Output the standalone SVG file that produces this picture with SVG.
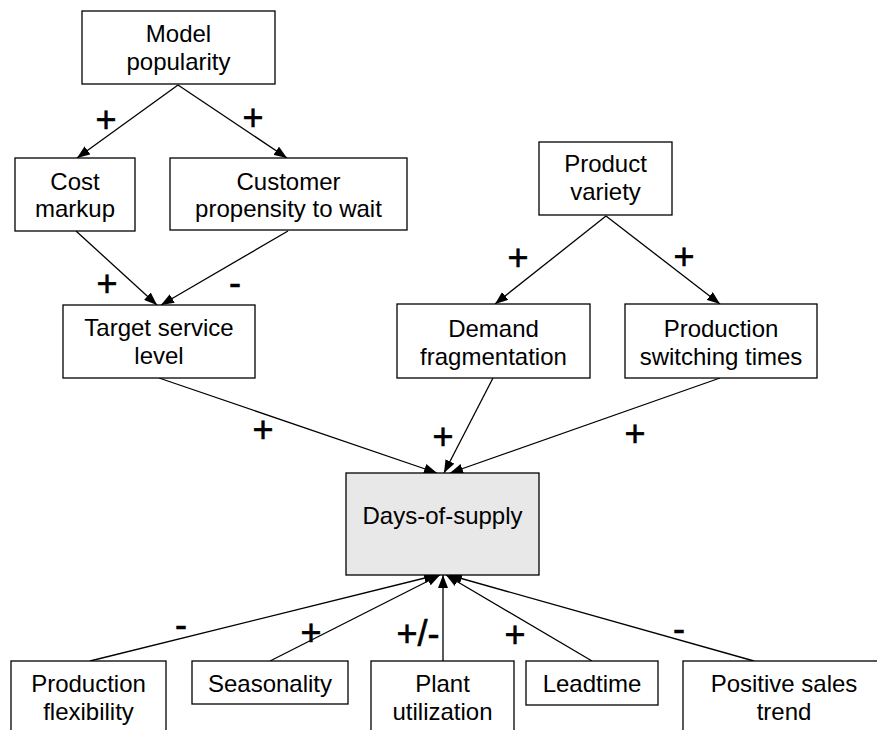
<svg xmlns="http://www.w3.org/2000/svg" width="877" height="730" viewBox="0 0 877 730">
<style>
.box{fill:#fff;stroke:#000;stroke-width:1.3}
.main{fill:#e8e8e8;stroke:#000;stroke-width:1.3}
.t{font-family:"Liberation Sans",Arial,sans-serif;font-size:24px;fill:#000;text-anchor:middle}
.s{font-family:"Liberation Sans",Arial,sans-serif;font-size:36px;fill:#000;text-anchor:middle;stroke:#000;stroke-width:0.6}
.e{fill:none;stroke:#000;stroke-width:1.3;marker-end:url(#ah)}
</style>
<defs>
<marker id="ah" viewBox="0 0 13 10" refX="13" refY="5" markerWidth="13" markerHeight="10" markerUnits="userSpaceOnUse" orient="auto">
<path d="M0,0 L13,5 L0,10 Z" fill="#000"/>
</marker>
</defs>
<rect width="877" height="730" fill="#fff"/>
<g id="connectors">
<line class="e" x1="178" y1="85" x2="77" y2="158"/>
<line class="e" x1="178" y1="85" x2="287" y2="158"/>
<line class="e" x1="76" y1="231" x2="157" y2="305"/>
<line class="e" x1="288" y1="231" x2="161" y2="305"/>
<line class="e" x1="606" y1="216" x2="495" y2="304"/>
<line class="e" x1="606" y1="216" x2="720" y2="304"/>
<line class="e" x1="159" y1="378" x2="437" y2="473"/>
<line class="e" x1="493" y1="378" x2="444" y2="473"/>
<line class="e" x1="720" y1="378" x2="450" y2="473"/>
<line class="e" x1="90" y1="661" x2="437" y2="575"/>
<line class="e" x1="270" y1="661" x2="440" y2="575"/>
<line class="e" x1="443" y1="661" x2="443" y2="575"/>
<line class="e" x1="592" y1="661" x2="446" y2="575"/>
<line class="e" x1="754" y1="661" x2="449" y2="575"/>
</g>
<g id="labels">
<text class="s" x="106" y="132">+</text>
<text class="s" x="253" y="130">+</text>
<text class="s" x="518" y="270">+</text>
<text class="s" x="684" y="269">+</text>
<text class="s" x="107" y="296">+</text>
<text class="s" x="235" y="295">-</text>
<text class="s" x="263" y="442">+</text>
<text class="s" x="443" y="449">+</text>
<text class="s" x="635" y="446">+</text>
<text class="s" x="181" y="637">-</text>
<text class="s" x="311" y="645">+</text>
<text class="s" x="418" y="646">+/-</text>
<text class="s" x="515" y="647">+</text>
<text class="s" x="679" y="641">-</text>
</g>
<g id="model-popularity"><rect class="box" x="82" y="11" width="193" height="73"/><text class="t" x="178.5" y="42">Model</text><text class="t" x="178.5" y="70">popularity</text></g>
<g id="cost-markup"><rect class="box" x="15" y="158" width="120" height="73"/><text class="t" x="75" y="190">Cost</text><text class="t" x="75" y="217">markup</text></g>
<g id="customer-propensity"><rect class="box" x="170" y="158" width="237" height="72"/><text class="t" x="288.5" y="190">Customer</text><text class="t" x="288.5" y="217">propensity to wait</text></g>
<g id="product-variety"><rect class="box" x="539" y="142" width="133" height="73"/><text class="t" x="605.5" y="172">Product</text><text class="t" x="605.5" y="200">variety</text></g>
<g id="target-service-level"><rect class="box" x="63" y="305" width="192" height="73"/><text class="t" x="159" y="336">Target service</text><text class="t" x="159" y="364">level</text></g>
<g id="demand-fragmentation"><rect class="box" x="397" y="304" width="193" height="74"/><text class="t" x="493.5" y="337">Demand</text><text class="t" x="493.5" y="365">fragmentation</text></g>
<g id="production-switching-times"><rect class="box" x="625" y="304" width="192" height="74"/><text class="t" x="721" y="337">Production</text><text class="t" x="721" y="365">switching times</text></g>
<g id="days-of-supply"><rect class="main" x="346" y="473" width="193" height="102"/><text class="t" x="442.5" y="524">Days-of-supply</text></g>
<g id="production-flexibility"><rect class="box" x="11" y="661" width="155" height="90"/><text class="t" x="88.5" y="692">Production</text><text class="t" x="88.5" y="720">flexibility</text></g>
<g id="seasonality"><rect class="box" x="192" y="661" width="156" height="43"/><text class="t" x="270" y="692">Seasonality</text></g>
<g id="plant-utilization"><rect class="box" x="371" y="661" width="143" height="90"/><text class="t" x="442.5" y="692">Plant</text><text class="t" x="442.5" y="720">utilization</text></g>
<g id="leadtime"><rect class="box" x="526" y="661" width="132" height="44"/><text class="t" x="592" y="692">Leadtime</text></g>
<g id="positive-sales-trend"><rect class="box" x="683" y="661" width="202" height="90"/><text class="t" x="784" y="692">Positive sales</text><text class="t" x="784" y="720">trend</text></g>
</svg>
